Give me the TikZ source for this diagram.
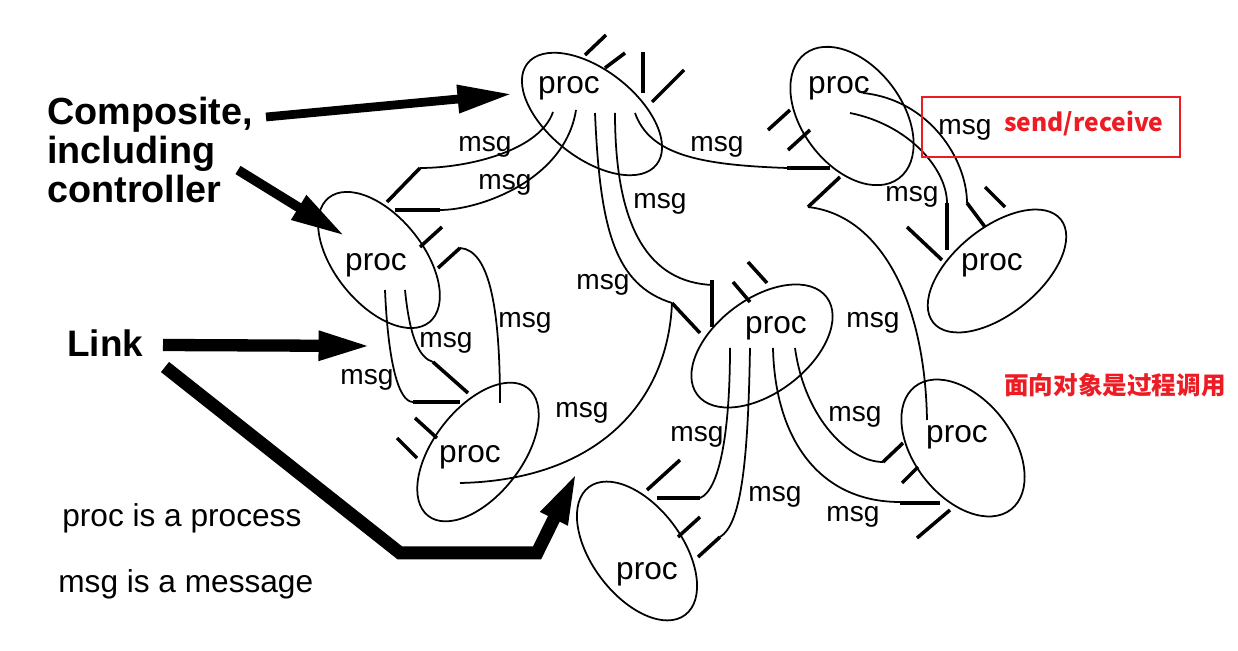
\documentclass[tikz,border=0pt]{standalone}
\usepackage{fontspec}
\setmainfont{Liberation Sans}
\newfontfamily\cjk{Noto Sans CJK SC}
\usetikzlibrary{arrows.meta}
\definecolor{markred}{RGB}{237,28,36}
\tikzset{
  wire/.style={line width=1pt},
  plug/.style={line width=2pt},
  proclabel/.style={font=\fontsize{18}{20}\selectfont},
  msglabel/.style={font=\fontsize{16}{18}\selectfont},
  keytext/.style={anchor=west,inner sep=0pt,font=\fontsize{18}{20}\selectfont},
  bigarrow/.style={line join=miter,-{Triangle[length=31pt,width=15pt]}}
}
\begin{document}
\begin{tikzpicture}[x=0.02cm,y=-0.02cm]
\useasboundingbox (0,0) rectangle (1238,651);
    \draw[wire,rotate around={-38:(592,114)}] (592,114) ellipse (82 and 44);
    \draw[wire,rotate around={-53:(852,116)}] (852,116) ellipse (78 and 50);
    \draw[wire,rotate around={39:(997,271)}] (997,271) ellipse (82 and 43);
    \draw[wire,rotate around={37:(762,346)}] (762,346) ellipse (81 and 47);
    \draw[wire,rotate around={-53:(637,551)}] (637,551) ellipse (80 and 45);
    \draw[wire,rotate around={-52:(963,448)}] (963,448) ellipse (78 and 49);
    \draw[wire,rotate around={-51:(379,260)}] (379,260) ellipse (80 and 44);
    \draw[wire,rotate around={52:(478,452)}] (478,452) ellipse (81 and 44);
    \node[proclabel] (proc1) at (569,88) {proc};
    \node[proclabel] (proc2) at (839,88) {proc};
    \node[proclabel] (proc3) at (992,265) {proc};
    \node[proclabel] (proc4) at (776,328) {proc};
    \node[proclabel] (proc5) at (647,574) {proc};
    \node[proclabel] (proc6) at (957,437) {proc};
    \node[proclabel] (proc7) at (376,265) {proc};
    \node[proclabel] (proc8) at (470,457) {proc};
    \draw[wire] (553,112) .. controls (540,150) and (470,168) .. (420,168);
    \draw[plug] (420,168) -- (387,202);
    \draw[wire] (576,110) .. controls (565,180) and (480,210) .. (440,210);
    \draw[plug] (440,210) -- (395,210);
    \draw[wire] (595,113) .. controls (600,230) and (615,285) .. (672,303);
    \draw[plug] (672,303) -- (700,333);
    \draw[wire] (615,113) .. controls (615,230) and (650,282) .. (712,285);
    \draw[plug] (712,280) -- (712,327);
    \draw[wire] (635,113) .. controls (650,155) and (700,165) .. (787,168);
    \draw[plug] (787,168) -- (830,168);
    \draw[plug] (585,55) -- (606,35);
    \draw[plug] (605,68) -- (625,53);
    \draw[plug] (643,52) -- (643,93);
    \draw[plug] (652,102) -- (684,70);
    \draw[wire] (850,113) .. controls (910,125) and (947,170) .. (947,203);
    \draw[plug] (947,203) -- (947,250);
    \draw[wire] (863,93) .. controls (930,100) and (967,160) .. (967,203);
    \draw[plug] (967,203) -- (985,227);
    \draw[plug] (768,130) -- (790,110);
    \draw[plug] (788,150) -- (810,130);
    \draw[plug] (808,207) -- (840,177);
    \draw[plug] (907,227) -- (942,260);
    \draw[plug] (985,187) -- (1005,207);
    \draw[wire] (927,420) .. controls (925,300) and (880,215) .. (808,207);
    \draw[wire] (730,348) .. controls (730,430) and (720,490) .. (700,498);
    \draw[plug] (700,498) -- (657,498);
    \draw[wire] (750,348) .. controls (748,470) and (740,525) .. (720,537);
    \draw[plug] (720,537) -- (698,557);
    \draw[wire] (773,348) .. controls (775,440) and (820,502) .. (900,502);
    \draw[plug] (900,503) -- (940,503);
    \draw[wire] (795,348) .. controls (805,420) and (850,462) .. (883,462);
    \draw[plug] (883,462) -- (903,443);
    \draw[plug] (733,282) -- (750,302);
    \draw[plug] (748,262) -- (767,283);
    \draw[plug] (647,490) -- (680,460);
    \draw[plug] (678,537) -- (700,517);
    \draw[plug] (902,483) -- (918,467);
    \draw[plug] (917,538) -- (950,510);
    \draw[wire] (385,290) .. controls (388,360) and (398,402) .. (413,402);
    \draw[plug] (413,402) -- (460,402);
    \draw[wire] (405,290) .. controls (410,340) and (420,358) .. (433,362);
    \draw[plug] (433,362) -- (468,393);
    \draw[plug] (420,247) -- (442,227);
    \draw[wire] (500,403) .. controls (500,310) and (490,250) .. (460,248);
    \draw[plug] (460,248) -- (438,268);
    \draw[wire] (460,483) .. controls (600,480) and (668,400) .. (672,303);
    \draw[plug] (415,418) -- (437,438);
    \draw[plug] (397,438) -- (417,458);
    \node[msglabel] (msg1) at (485,147) {msg};
    \node[msglabel] (msg2) at (505,185) {msg};
    \node[msglabel] (msg3) at (717,147) {msg};
    \node[msglabel] (msg4) at (660,204) {msg};
    \node[msglabel] (msg5) at (603,285) {msg};
    \node[msglabel] (msg6) at (525,323) {msg};
    \node[msglabel] (msg7) at (446,343) {msg};
    \node[msglabel] (msg8) at (367,380) {msg};
    \node[msglabel] (msg9) at (582,413) {msg};
    \node[msglabel] (msg10) at (697,437) {msg};
    \node[msglabel] (msg11) at (775,497) {msg};
    \node[msglabel] (msg12) at (855,417) {msg};
    \node[msglabel] (msg13) at (853,517) {msg};
    \node[msglabel] (msg14) at (873,323) {msg};
    \node[msglabel] (msg15) at (912,197) {msg};
    \node[msglabel] (msg16) at (965,130) {msg};
    \node[anchor=west,align=left,inner sep=0pt,font=\bfseries\fontsize{21.5}{22}\selectfont] (composite) at (47,150) {Composite,\\including\\controller};
    \node[anchor=west,inner sep=0pt,font=\bfseries\fontsize{21}{23}\selectfont] (link) at (67,343) {Link};
    \node[keytext] (key1) at (62,518) {proc is a process};
    \node[keytext] (key2) at (58,584) {msg is a message};
    \draw[bigarrow,line width=5pt] (266,117) -- (512,94);
    \draw[bigarrow,line width=5.5pt] (238,170) -- (345,236);
    \draw[bigarrow,line width=7pt] (163,345) -- (373,346);
    \draw[bigarrow,line width=7.4pt] (165,367) -- (400,553) -- (537,553) -- (578,470);
    \draw[markred,line width=1.2pt] (922,97) rectangle (1180,157);
    \node[anchor=west,inner sep=0pt,text=markred,font=\cjk\bfseries\fontsize{14}{16}\selectfont] (note1) at (1004,124) {send/receive};
    \node[anchor=west,inner sep=0pt,text=markred,font=\cjk\bfseries\fontsize{14}{16}\selectfont] (note2) at (1004,385) {面向对象是过程调用};
\end{tikzpicture}
\end{document}
